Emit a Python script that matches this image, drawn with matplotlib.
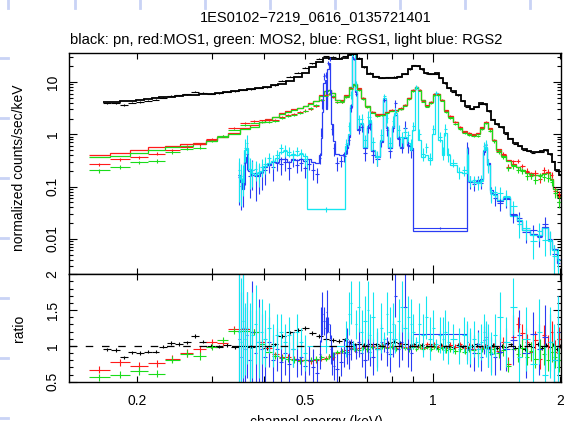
import numpy as np
import matplotlib
matplotlib.use("Agg")
import matplotlib.pyplot as plt
from matplotlib.lines import Line2D
from matplotlib.ticker import FixedLocator, FuncFormatter, LogLocator, MultipleLocator, NullFormatter

plt.rcParams["font.family"] = ["Liberation Sans", "DejaVu Sans"]
plt.rcParams["font.size"] = 10

TITLE = "1ES0102\u22127219_0616_0135721401"
SUBTITLE = "black: pn, red:MOS1, green: MOS2, blue: RGS1, light blue: RGS2"

# ---- EPIC pn (black): bin centres (keV), model (counts/s/keV), data/model ratio
pn_energy = [0.170, 0.178, 0.186, 0.194, 0.203, 0.212, 0.221, 0.231, 0.241, 0.252,
             0.263, 0.275, 0.287, 0.300, 0.313, 0.327, 0.341, 0.356, 0.372, 0.388,
             0.405, 0.423, 0.441, 0.460, 0.480, 0.500, 0.520, 0.540, 0.560, 0.580,
             0.600, 0.620, 0.640, 0.655, 0.670, 0.690, 0.710, 0.735, 0.760, 0.785,
             0.810, 0.835, 0.860, 0.885, 0.905, 0.925, 0.945, 0.965, 0.985, 1.005,
             1.025, 1.045, 1.070, 1.095, 1.120, 1.150, 1.180, 1.210, 1.240, 1.270,
             1.300, 1.330, 1.360, 1.390, 1.420, 1.455, 1.490, 1.530, 1.570, 1.610,
             1.650, 1.690, 1.730, 1.770, 1.810, 1.850, 1.890, 1.930, 1.970, 2.000]
pn_model = [4.1, 4.2, 4.3, 4.4, 4.6, 4.75, 4.95, 5.1, 5.25, 5.4,
            5.55, 5.7, 5.85, 6.0, 6.2, 6.5, 6.8, 7.1, 7.4, 7.75,
            8.1, 8.6, 9.3, 10.5, 12.3, 15.0, 19.5, 24.5, 28.5, 28.0,
            27.0, 28.5, 33.0, 34.0, 28.0, 19.0, 14.5, 12.5, 12.0, 11.8,
            12.0, 12.4, 14.0, 17.5, 20.5, 20.5, 17.5, 14.8, 14.0, 14.5,
            14.6, 12.0, 9.5, 7.8, 6.6, 5.6, 4.4, 3.5, 3.1, 3.3,
            3.9, 3.8, 2.8, 1.9, 1.6, 1.35, 1.05, 0.82, 0.68, 0.6,
            0.53, 0.48, 0.45, 0.45, 0.48, 0.49, 0.42, 0.3, 0.21, 0.17]
pn_ratio = [0.95, 0.94, 0.84, 0.91, 0.90, 0.92, 0.92, 0.99, 1.04, 1.03,
            1.05, 1.14, 1.06, 1.00, 0.99, 1.01, 0.98, 1.00, 0.99, 1.00,
            0.97, 1.02, 1.14, 1.19, 1.22, 1.25, 1.18, 1.14, 1.10, 1.08,
            1.07, 1.09, 1.05, 1.02, 1.03, 1.01, 1.03, 1.02, 1.01, 1.04,
            1.06, 1.04, 1.02, 1.00, 1.02, 1.00, 1.01, 0.99, 1.02, 1.00,
            0.98, 1.01, 0.99, 1.00, 0.98, 1.01, 0.99, 0.97, 1.00, 1.02,
            0.99, 1.00, 0.98, 1.01, 0.97, 1.00, 0.98, 1.02, 0.97, 1.00,
            0.96, 1.02, 0.99, 1.03, 0.97, 1.01, 0.98, 1.02, 0.96, 1.00]
pn_err = 0.025

# ---- EPIC MOS1 (red) and MOS2 (green), same binning
mos_energy = [0.163, 0.1825, 0.2025, 0.223, 0.243, 0.262, 0.282, 0.300, 0.319, 0.339,
              0.360, 0.380, 0.395, 0.41, 0.425, 0.44, 0.455, 0.47, 0.485, 0.50,
              0.515, 0.53, 0.545, 0.56, 0.57, 0.58, 0.595, 0.61, 0.625, 0.64,
              0.655, 0.67, 0.685, 0.70, 0.72, 0.74, 0.76, 0.78, 0.80, 0.82,
              0.84, 0.86, 0.88, 0.90, 0.915, 0.93, 0.95, 0.97, 0.99, 1.01,
              1.03, 1.05, 1.075, 1.10, 1.13, 1.16, 1.19, 1.22, 1.25, 1.28,
              1.31, 1.34, 1.37, 1.40, 1.43, 1.47, 1.51, 1.55, 1.59, 1.63,
              1.67, 1.71, 1.75, 1.79, 1.83, 1.87, 1.91, 1.95, 1.99]
mos1_model = [0.40, 0.433, 0.50, 0.564, 0.598, 0.644, 0.673, 0.778, 0.90, 1.07,
              1.34, 1.51, 1.75, 1.95, 2.15, 2.5, 2.75, 3.0, 3.25, 3.55,
              3.9, 4.4, 5.6, 6.8, 7.0, 6.2, 4.6, 4.5, 5.6, 8.0,
              9.3, 7.6, 5.0, 3.5, 2.7, 2.4, 2.4, 2.7, 2.9, 2.9,
              3.1, 3.7, 5.0, 7.0, 8.1, 7.0, 4.5, 3.5, 4.2, 5.8,
              6.0, 4.6, 2.9, 2.2, 1.75, 1.35, 1.15, 1.05, 1.0, 1.05,
              1.35, 1.7, 1.3, 0.78, 0.52, 0.40, 0.32, 0.27, 0.24, 0.21,
              0.19, 0.18, 0.17, 0.17, 0.18, 0.19, 0.14, 0.09, 0.065]
mos1_ratio = [0.67, 0.77, 0.72, 0.76, 0.82, 0.90, 0.95, 1.06, 1.04, 1.24,
              1.24, 1.20, 1.05, 0.97, 0.88, 0.85, 0.84, 0.82, 0.81, 0.80,
              0.79, 0.80, 0.82, 0.83, 0.86, 0.84, 0.90, 0.93, 0.94, 0.97,
              0.95, 0.97, 0.99, 0.96, 1.00, 0.97, 1.01, 0.98, 1.00, 0.97,
              1.02, 0.99, 0.97, 1.01, 0.98, 1.00, 0.97, 1.02, 0.99, 1.03,
              0.98, 1.00, 0.97, 1.01, 0.98, 1.02, 0.97, 1.00, 0.96, 0.99,
              0.97, 1.01, 0.95, 0.98, 0.93, 1.05, 0.75, 1.12, 1.30, 1.18,
              1.05, 0.92, 1.08, 0.82, 1.15, 1.00, 1.20, 0.92, 1.10]
mos2_model = [0.363, 0.39, 0.445, 0.50, 0.564, 0.598, 0.644, 0.755, 0.876, 1.01,
              1.25, 1.40, 1.7, 1.9, 2.1, 2.45, 2.7, 2.95, 3.2, 3.5,
              3.85, 4.35, 5.5, 6.7, 6.9, 6.1, 4.5, 4.4, 5.5, 7.9,
              9.2, 7.5, 4.9, 3.45, 2.65, 2.35, 2.35, 2.65, 2.85, 2.85,
              3.05, 3.65, 4.9, 6.9, 8.0, 6.9, 4.45, 3.45, 4.15, 5.7,
              5.9, 4.55, 2.85, 2.15, 1.72, 1.33, 1.13, 1.03, 0.98, 1.03,
              1.32, 1.67, 1.28, 0.77, 0.51, 0.39, 0.31, 0.26, 0.235, 0.205,
              0.185, 0.175, 0.165, 0.165, 0.175, 0.185, 0.135, 0.088, 0.062]
mos2_ratio = [0.56, 0.60, 0.65, 0.61, 0.81, 0.89, 0.86, 0.98, 1.08, 1.21,
              1.21, 1.19, 1.02, 0.92, 0.86, 0.83, 0.82, 0.80, 0.79, 0.80,
              0.81, 0.82, 0.84, 0.82, 0.85, 0.88, 0.91, 0.93, 0.92, 0.95,
              0.96, 0.94, 0.97, 0.95, 0.98, 0.96, 0.99, 0.97, 0.99, 0.96,
              1.00, 0.97, 0.95, 0.98, 0.96, 0.99, 0.95, 0.98, 0.96, 0.99,
              0.95, 0.97, 0.94, 0.96, 0.93, 0.95, 0.92, 0.96, 0.94, 0.90,
              0.95, 0.97, 0.92, 0.95, 0.90, 0.94, 0.72, 0.95, 0.88, 0.97,
              0.85, 0.93, 0.82, 0.96, 0.88, 0.80, 0.92, 0.85, 0.80]
mos_err = [0.05, 0.05, 0.05, 0.05, 0.05, 0.05, 0.05, 0.04, 0.04, 0.04,
           0.04, 0.04, 0.04, 0.04, 0.04, 0.04, 0.04, 0.04, 0.04, 0.04,
           0.04, 0.04, 0.03, 0.03, 0.03, 0.03, 0.03, 0.03, 0.03, 0.03,
           0.03, 0.03, 0.03, 0.03, 0.03, 0.03, 0.03, 0.03, 0.03, 0.03,
           0.03, 0.03, 0.03, 0.03, 0.03, 0.03, 0.03, 0.03, 0.03, 0.03,
           0.03, 0.03, 0.04, 0.04, 0.04, 0.04, 0.04, 0.04, 0.04, 0.04,
           0.04, 0.04, 0.05, 0.06, 0.07, 0.08, 0.09, 0.10, 0.11, 0.12,
           0.12, 0.13, 0.13, 0.14, 0.14, 0.15, 0.15, 0.16, 0.17]

# ---- RGS1 (blue): bin edges (keV), model, ratio, ratio error
rgs1_edges = [0.3465, 0.3503, 0.3541, 0.358, 0.3619, 0.3659, 0.3719, 0.378, 0.3843, 0.3906,
              0.3971, 0.4058, 0.4147, 0.4239, 0.4332, 0.4427, 0.4524, 0.4624, 0.4726, 0.483,
              0.4935, 0.5044, 0.5155, 0.5268, 0.5384, 0.5443, 0.5472, 0.5502, 0.5562, 0.5608,
              0.5639, 0.5685, 0.5732, 0.5764, 0.5811, 0.5875, 0.6004, 0.6136, 0.6237, 0.6306,
              0.6375, 0.6444, 0.6498, 0.6552, 0.6623, 0.6733, 0.6844, 0.6994, 0.7071, 0.7148,
              0.7306, 0.7504, 0.763, 0.7755, 0.784, 0.8013, 0.81, 0.8234, 0.8371, 0.8509,
              0.8694, 0.8837, 0.8984, 1.2032, 1.2117, 1.2383, 1.2656, 1.2935, 1.3148, 1.3292,
              1.3438, 1.3659, 1.3884, 1.4191, 1.4662, 1.523, 1.5823, 1.626, 1.6982, 1.7642,
              1.8128, 1.873, 1.9145, 1.9676, 2.0]
rgs1_model = [0.15, 0.12, 0.09, 0.30, 0.37, 0.20, 0.17, 0.18, 0.16, 0.19,
              0.24, 0.26, 0.29, 0.30, 0.34, 0.33, 0.30, 0.34, 0.32, 0.33,
              0.31, 0.34, 0.30, 0.28, 0.40, 0.85, 2.7, 9.5, 11.0, 3.0,
              18.0, 22.8, 6.0, 1.6, 0.75, 0.42, 0.40, 0.42, 0.55, 0.9,
              3.4, 30.0, 28.0, 6.5, 1.2, 1.55, 0.55, 1.3, 1.7, 0.48,
              0.36, 0.7, 4.5, 1.3, 0.55, 1.3, 2.3, 0.85, 0.55, 0.85,
              0.62, 0.55, 0.0141, 0.55, 0.13, 0.125, 0.13, 0.14, 0.45, 0.55,
              0.28, 0.085, 0.072, 0.052, 0.06, 0.028, 0.022, 0.015, 0.0125, 0.0115,
              0.017, 0.0095, 0.0065, 0.0035]
rgs1_ratio = [1.10, 0.85, 1.25, 0.95, 1.15, 0.80, 1.20, 0.90, 1.05, 0.95,
              0.85, 1.05, 0.80, 0.95, 0.78, 0.90, 0.75, 0.95, 0.82, 0.85,
              0.72, 0.80, 0.70, 0.62, 0.88, 1.30, 1.45, 1.35, 1.25, 1.48,
              1.30, 1.20, 0.95, 0.80, 0.72, 0.68, 0.78, 0.90, 1.00, 0.88,
              0.95, 1.02, 0.98, 0.92, 1.05, 0.90, 0.80, 1.00, 0.92, 0.85,
              0.95, 1.05, 1.02, 0.92, 0.88, 1.10, 1.70, 0.95, 1.05, 1.55,
              0.95, 0.90, 1.16, 1.05, 0.95, 0.90, 1.02, 0.85, 1.08, 1.12,
              0.95, 0.88, 0.84, 0.92, 0.95, 1.08, 1.15, 0.90, 1.17, 0.95,
              1.12, 1.05, 0.80, 1.20]
rgs1_err = [0.9, 0.9, 0.8, 0.6, 0.6, 0.7, 0.7, 0.6, 0.6, 0.5,
            0.4, 0.35, 0.35, 0.3, 0.3, 0.3, 0.3, 0.25, 0.25, 0.25,
            0.25, 0.2, 0.25, 0.2, 0.2, 0.25, 0.3, 0.2, 0.15, 0.3,
            0.1, 0.1, 0.2, 0.2, 0.2, 0.2, 0.2, 0.2, 0.25, 0.2,
            0.15, 0.05, 0.05, 0.1, 0.2, 0.2, 0.25, 0.2, 0.2, 0.25,
            0.25, 0.25, 0.1, 0.2, 0.25, 0.25, 0.3, 0.25, 0.25, 0.55,
            0.25, 0.25, 0.05, 0.25, 0.25, 0.25, 0.2, 0.2, 0.2, 0.2,
            0.25, 0.25, 0.25, 0.25, 0.3, 0.35, 0.35, 0.35, 0.3, 0.35,
            0.45, 0.4, 0.4, 0.5]

# ---- RGS2 (light blue)
rgs2_edges = [0.3465, 0.3503, 0.3541, 0.358, 0.3619, 0.3659, 0.3719, 0.378, 0.3843, 0.3906,
              0.3971, 0.4058, 0.4147, 0.4239, 0.4332, 0.4427, 0.4524, 0.4624, 0.4726, 0.483,
              0.4935, 0.5036, 0.6204, 0.6306, 0.6375, 0.6444, 0.6498, 0.6552, 0.6623, 0.6733,
              0.6844, 0.6994, 0.7071, 0.7148, 0.7306, 0.7504, 0.763, 0.7755, 0.784, 0.8013,
              0.81, 0.8234, 0.8371, 0.8509, 0.8694, 0.8837, 0.8934, 0.9082, 0.9231, 0.9383,
              0.959, 0.9747, 0.9962, 1.0126, 1.0293, 1.0519, 1.0634, 1.0809, 1.0988, 1.1415,
              1.173, 1.2032, 1.2117, 1.2383, 1.2656, 1.2935, 1.3148, 1.3292, 1.3438, 1.3659,
              1.3884, 1.4191, 1.4662, 1.523, 1.5823, 1.626, 1.6982, 1.7642, 1.8128, 1.873,
              1.9145, 1.9676, 2.0]
rgs2_model = [0.17, 0.14, 0.12, 0.50, 0.55, 0.22, 0.18, 0.17, 0.18, 0.20,
              0.25, 0.28, 0.31, 0.35, 0.45, 0.47, 0.40, 0.42, 0.40, 0.42,
              0.38, 0.037, 0.6, 1.0, 3.6, 40.0, 40.0, 7.0, 1.25, 1.65,
              0.58, 1.45, 1.9, 0.5, 0.38, 0.78, 4.9, 1.4, 0.58, 1.4,
              2.5, 0.9, 0.58, 0.9, 0.68, 0.5, 1.2, 7.6, 0.78, 0.37,
              0.40, 0.32, 1.0, 6.1, 0.78, 0.40, 1.04, 0.40, 0.26, 0.19,
              0.18, 0.40, 0.13, 0.12, 0.125, 0.13, 0.50, 0.58, 0.26, 0.08,
              0.07, 0.055, 0.062, 0.027, 0.023, 0.0145, 0.012, 0.012, 0.016, 0.009,
              0.006, 0.004]
rgs2_ratio = [1.20, 1.05, 1.35, 1.10, 1.25, 1.00, 1.15, 1.30, 1.05, 1.20,
              1.10, 1.25, 1.00, 1.15, 1.20, 1.05, 1.15, 0.95, 1.20, 1.05,
              0.90, 1.00, 1.10, 1.45, 1.60, 1.02, 0.98, 1.30, 1.55, 1.20,
              1.35, 1.50, 1.15, 1.40, 0.95, 1.25, 1.10, 1.45, 1.20, 1.30,
              1.10, 1.35, 1.55, 1.25, 1.40, 1.30, 1.20, 1.05, 1.30, 1.15,
              1.40, 1.10, 1.25, 1.02, 1.15, 1.10, 1.20, 1.05, 1.10, 1.00,
              1.15, 1.05, 1.00, 1.10, 0.95, 1.05, 1.20, 1.10, 1.00, 0.90,
              1.15, 1.40, 1.05, 1.55, 0.85, 1.10, 0.75, 1.20, 0.60, 1.05,
              0.80, 1.00]
rgs2_err = [0.9, 0.9, 0.8, 0.5, 0.5, 0.6, 0.6, 0.55, 0.5, 0.45,
            0.4, 0.35, 0.3, 0.3, 0.25, 0.25, 0.25, 0.25, 0.25, 0.2,
            0.25, 0.1, 0.25, 0.3, 0.3, 0.05, 0.05, 0.2, 0.35, 0.3,
            0.35, 0.4, 0.3, 0.35, 0.3, 0.35, 0.1, 0.3, 0.35, 0.3,
            0.2, 0.3, 0.35, 0.3, 0.3, 0.35, 0.25, 0.08, 0.3, 0.3,
            0.3, 0.3, 0.25, 0.08, 0.25, 0.3, 0.3, 0.3, 0.2, 0.25,
            0.25, 0.3, 0.25, 0.25, 0.25, 0.25, 0.25, 0.25, 0.3, 0.3,
            0.3, 0.35, 0.35, 0.4, 0.4, 0.45, 0.4, 0.45, 0.4, 0.5,
            0.5, 0.7]

x_minor_ticks = [0.2, 0.3, 0.4, 0.5, 0.6, 0.7, 0.8, 0.9, 2.0]
x_labels = {0.2: "0.2", 0.5: "0.5", 1.0: "1", 2.0: "2"}
y_top_ticks = [0.01, 0.1, 1, 10]
y_ratio_ticks = [0.5, 1, 1.5, 2]

BLACK, RED, GREEN, BLUE, CYAN = "#000000", "#ff1a1a", "#1adc1a", "#2a3cf4", "#14e6f0"


def centres_to_edges(c):
    c = np.asarray(c, float)
    mid = np.sqrt(c[1:] * c[:-1])
    return np.concatenate([[c[0] ** 2 / mid[0]], mid, [c[-1] ** 2 / mid[-1]]])


def draw_instrument(ax, axr, edges, model, ratio, err, color, lw=0.9):
    edges = np.asarray(edges, float)
    model = np.asarray(model, float)
    ratio = np.asarray(ratio, float)
    err = np.broadcast_to(np.asarray(err, float), ratio.shape)
    mid = np.sqrt(edges[:-1] * edges[1:])
    xerr = [mid - edges[:-1], edges[1:] - mid]
    data = model * ratio
    low = model * np.maximum(ratio - err, 0.3)
    high = model * (ratio + err)
    ax.errorbar(mid, data, xerr=xerr, yerr=[data - low, high - data], fmt="none",
                ecolor=color, elinewidth=0.8, capsize=0)
    ax.stairs(model, edges, baseline=None, color=color, lw=lw)
    axr.errorbar(mid, ratio, xerr=xerr, yerr=err, fmt="none",
                 ecolor=color, elinewidth=0.8, capsize=0)


def xfmt(v, pos):
    return x_labels.get(round(v, 3), "")


fig = plt.figure(figsize=(5.64, 4.21), dpi=100)
W, H = 564.0, 421.0
L, R = 69.3, 561.0
ax = fig.add_axes([L / W, 1 - 274.3 / H, (R - L) / W, (274.3 - 53.3) / H])
axr = fig.add_axes([L / W, 1 - 381.7 / H, (R - L) / W, (381.7 - 274.3) / H])

draw_instrument(ax, axr, centres_to_edges(pn_energy), pn_model, pn_ratio, pn_err, BLACK, lw=1.3)
draw_instrument(ax, axr, centres_to_edges(mos_energy), mos1_model, mos1_ratio, mos_err, RED)
draw_instrument(ax, axr, centres_to_edges(mos_energy), mos2_model, mos2_ratio, mos_err, GREEN)
draw_instrument(ax, axr, rgs1_edges, rgs1_model, rgs1_ratio, rgs1_err, BLUE)
draw_instrument(ax, axr, rgs2_edges, rgs2_model, rgs2_ratio, rgs2_err, CYAN)

axr.axhline(1.0, color="black", lw=0.9, dashes=(6, 7), zorder=5)

for a in (ax, axr):
    a.set_xscale("log")
    a.set_xlim(0.1383, 2.011)
    a.xaxis.set_major_locator(FixedLocator([1.0]))
    a.xaxis.set_minor_locator(FixedLocator(x_minor_ticks))
    a.tick_params(which="both", direction="in", top=True, right=True, width=0.8)
    a.tick_params(axis="x", which="major", length=6.5)
    a.tick_params(axis="x", which="minor", length=4.5)
    a.tick_params(axis="y", which="major", length=6, labelrotation=90, pad=7)
    a.tick_params(axis="y", which="minor", length=3)
    for s in a.spines.values():
        s.set_linewidth(1.0)

ax.tick_params(axis="x", which="both", labelbottom=False)
axr.xaxis.set_major_formatter(FuncFormatter(xfmt))
axr.xaxis.set_minor_formatter(FuncFormatter(xfmt))
axr.tick_params(axis="x", which="both", pad=9)

ax.set_yscale("log")
ax.set_ylim(0.0021, 35.4)
ax.yaxis.set_major_locator(FixedLocator(y_top_ticks))
ax.yaxis.set_major_formatter(FuncFormatter(lambda v, p: f"{v:g}"))
ax.yaxis.set_minor_locator(LogLocator(base=10, subs=np.arange(2, 10), numticks=20))
ax.yaxis.set_minor_formatter(NullFormatter())

axr.set_ylim(0.5, 2.0)
axr.yaxis.set_major_locator(FixedLocator(y_ratio_ticks))
axr.yaxis.set_major_formatter(FuncFormatter(lambda v, p: f"{v:g}"))
axr.yaxis.set_minor_locator(MultipleLocator(0.1))

for lab in ax.get_yticklabels() + axr.get_yticklabels():
    lab.set_verticalalignment("center")

fig.text(316 / W, 1 - 17 / H, TITLE, ha="center", va="center", fontsize=10.5)
fig.text(69.5 / W, 1 - 40 / H, SUBTITLE, ha="left", va="center", fontsize=10.6)
fig.text(19 / W, 1 - 168 / H, "normalized counts/sec/keV", rotation=90, ha="center", va="center")
fig.text(19 / W, 1 - 328 / H, "ratio", rotation=90, ha="center", va="center")
fig.text(316 / W, 1 - 415 / H, "channel energy (keV)", ha="center", va="top")

# faint slide-ruler marks along the top and left edges of the original image
top_marks = [8, 75, 140, 205, 270, 335, 400, 465, 530]
left_marks = [58, 118, 178, 238, 298, 358, 418]
for xm in top_marks:
    fig.add_artist(Line2D([xm / W, xm / W], [1.0, 1 - 8 / H], color="#c9d3f5", lw=2))
for ym in left_marks:
    fig.add_artist(Line2D([0, 8 / W], [1 - ym / H, 1 - ym / H], color="#c9d3f5", lw=2))

fig.savefig("out.png", dpi=100)
